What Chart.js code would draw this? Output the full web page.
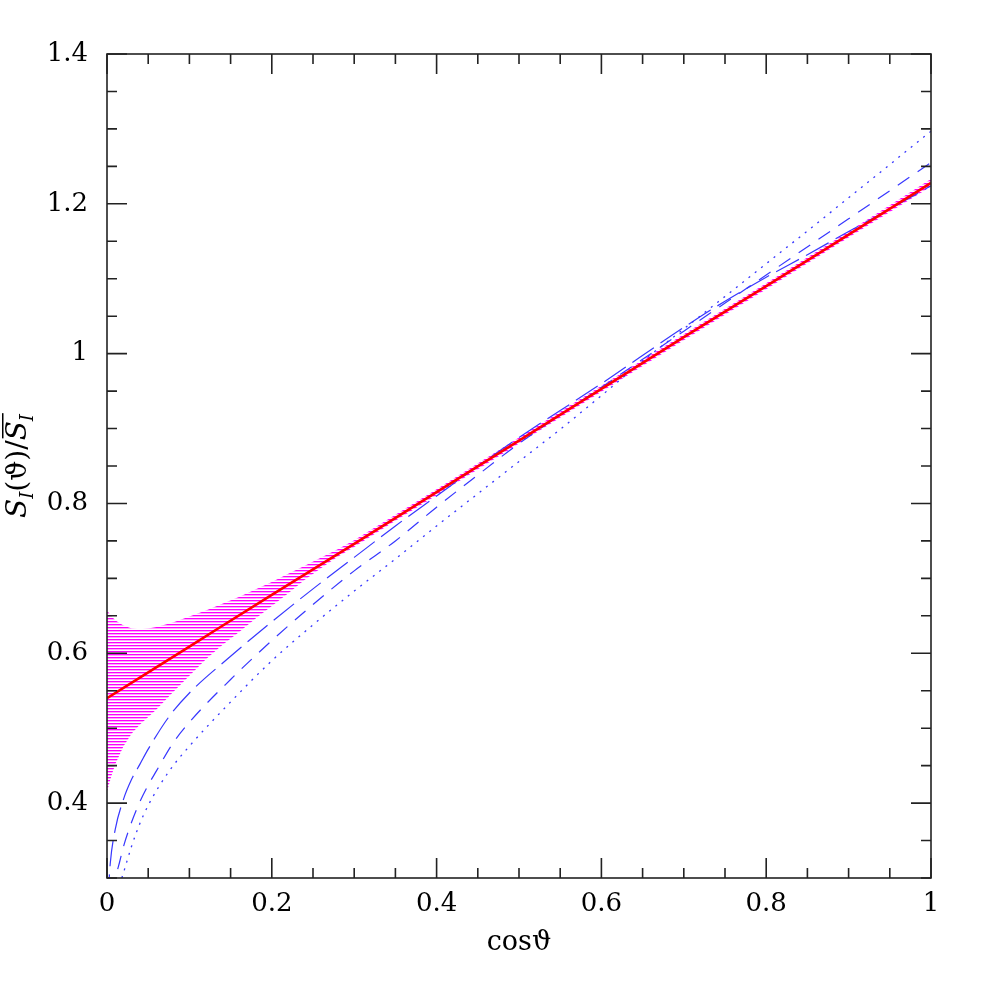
<!DOCTYPE html>
<html>
<head>
<meta charset="utf-8">
<script src="https://cdn.jsdelivr.net/npm/chart.js@4.4.1/dist/chart.umd.min.js"></script>
<style>
  html, body { margin: 0; padding: 0; background: #fff; }
  #wrap { width: 983px; height: 983px; }
</style>
</head>
<body>
<div id="wrap"><canvas id="myChart" width="983" height="983"></canvas></div>
<script>
// tick values and labels
const xTickValues = [0, 0.2, 0.4, 0.6, 0.8, 1];
const xTickLabels = ['0', '0.2', '0.4', '0.6', '0.8', '1'];
const yTickValues = [0.4, 0.6, 0.8, 1, 1.2, 1.4];
const yTickLabels = ['0.4', '0.6', '0.8', '1', '1.2', '1.4'];

// hatched band (magenta) around the red curve
const bandX =     [0, 0.005, 0.01, 0.02, 0.03, 0.04, 0.05, 0.06, 0.08, 0.1, 0.12, 0.14, 0.16, 0.18, 0.2, 0.22, 0.24, 0.26, 0.28, 0.3, 0.35, 0.4, 0.5, 0.6, 0.7, 0.8, 0.9, 1.0];
const bandUpper = [0.657, 0.650, 0.644, 0.637, 0.633, 0.632, 0.633, 0.635, 0.641, 0.649, 0.657, 0.666, 0.675, 0.685, 0.695, 0.706, 0.717, 0.728, 0.739, 0.751, 0.785, 0.819, 0.888, 0.957, 1.026, 1.094, 1.163, 1.233];
const bandLower = [0.415, 0.435, 0.452, 0.476, 0.493, 0.505, 0.515, 0.525, 0.548, 0.570, 0.592, 0.611, 0.628, 0.646, 0.663, 0.680, 0.698, 0.714, 0.729, 0.742, 0.777, 0.811, 0.880, 0.949, 1.018, 1.086, 1.155, 1.223];

// red solid curve
const redX = [0, 0.1, 0.2, 0.3, 0.4, 0.5, 0.6, 0.7, 0.8, 0.9, 1.0];
const redY = [0.540, 0.609, 0.678, 0.746, 0.815, 0.884, 0.953, 1.022, 1.090, 1.159, 1.228];

// blue long dash
const longDashX = [0.001, 0.004, 0.01, 0.02, 0.03, 0.04, 0.05, 0.075, 0.1, 0.15, 0.2, 0.25, 0.3, 0.35, 0.4, 0.45, 0.5, 0.6, 0.7, 0.75, 0.8, 0.85, 0.9, 0.95, 1.0];
const longDashY = [0.27, 0.32, 0.365, 0.405, 0.432, 0.452, 0.472, 0.515, 0.547, 0.596, 0.642, 0.686, 0.728, 0.770, 0.810, 0.850, 0.888, 0.960, 1.035, 1.070, 1.102, 1.132, 1.163, 1.193, 1.224];

// blue medium dash
const midDashX = [0.008, 0.012, 0.015, 0.02, 0.03, 0.04, 0.05, 0.06, 0.08, 0.1, 0.15, 0.2, 0.25, 0.3, 0.35, 0.4, 0.45, 0.5, 0.6, 0.7, 0.8, 0.9, 1.0];
const midDashY = [0.28, 0.307, 0.32, 0.342, 0.375, 0.402, 0.424, 0.443, 0.480, 0.508, 0.565, 0.617, 0.665, 0.710, 0.750, 0.795, 0.838, 0.880, 0.955, 1.030, 1.105, 1.180, 1.255];

// blue dotted
const dotX = [0.015, 0.02, 0.03, 0.04, 0.05, 0.075, 0.1, 0.15, 0.2, 0.25, 0.3, 0.35, 0.4, 0.45, 0.5, 0.55, 0.6, 0.65, 0.7, 0.8, 0.9, 1.0];
const dotY = [0.29, 0.307, 0.343, 0.373, 0.397, 0.442, 0.476, 0.535, 0.590, 0.638, 0.683, 0.726, 0.770, 0.813, 0.856, 0.899, 0.944, 0.990, 1.033, 1.120, 1.208, 1.297];

const pts = (xs, ys) => xs.map((x, i) => ({ x: x, y: ys[i] }));

const tickFont = { family: '"DejaVu Serif", serif', size: 26 };
const blue = 'rgb(55,55,255)';

function makeHatch()
{
    const c = document.createElement('canvas');
    c.width = 8;
    c.height = 3;
    const g = c.getContext('2d');
    g.fillStyle = 'rgba(255,0,255,1)';
    g.fillRect(0, 0, 8, 1);
    g.fillStyle = 'rgba(255,0,255,0.35)';
    g.fillRect(0, 1, 8, 1);
    return g.createPattern(c, 'repeat');
}

const ctx = document.getElementById('myChart').getContext('2d');

// frame and inward ticks on all four sides
const framePlugin = {
    id: 'frame',
    afterDatasetsDraw(chart)
    {
        const { ctx, chartArea: a, scales: { x, y } } = chart;
        ctx.save();
        ctx.strokeStyle = '#222';
        ctx.lineWidth = 1.6;
        ctx.strokeRect(a.left, a.top, a.right - a.left, a.bottom - a.top);
        ctx.beginPath();
        for (let i = 0; i <= 20; i++)
        {
            const v = i * 0.05;
            const px = x.getPixelForValue(v);
            const len = (i % 4 === 0) ? 20 : 10;
            ctx.moveTo(px, a.bottom); ctx.lineTo(px, a.bottom - len);
            ctx.moveTo(px, a.top); ctx.lineTo(px, a.top + len);
        }
        for (let i = 6; i <= 28; i++)
        {
            const v = i * 0.05;
            const py = y.getPixelForValue(v);
            const len = (i % 4 === 0) ? 20 : 10;
            ctx.moveTo(a.left, py); ctx.lineTo(a.left + len, py);
            ctx.moveTo(a.right, py); ctx.lineTo(a.right - len, py);
        }
        ctx.stroke();
        ctx.restore();
    },
    afterDraw(chart)
    {
        // y axis title: S_I(theta)/overline(S)_I, rotated
        const { ctx } = chart;
        const big = 'italic 28px "DejaVu Serif", serif';
        const up = '28px "DejaVu Serif", serif';
        const sub = 'italic 18px "DejaVu Serif", serif';
        const parts = [
            { t: 'S', f: big, dy: 0 },
            { t: 'I', f: sub, dy: 7 },
            { t: '(ϑ)/', f: up, dy: 0 },
            { t: 'S', f: big, dy: 0, bar: true },
            { t: 'I', f: sub, dy: 7 }
        ];
        ctx.save();
        let total = 0;
        parts.forEach(p => { ctx.font = p.f; p.w = ctx.measureText(p.t).width; total += p.w; });
        ctx.translate(26, 466);
        ctx.rotate(-Math.PI / 2);
        ctx.fillStyle = '#000';
        ctx.textBaseline = 'alphabetic';
        let cx = -total / 2;
        parts.forEach(p =>
        {
            ctx.font = p.f;
            ctx.fillText(p.t, cx, p.dy);
            if (p.bar)
            {
                ctx.fillRect(cx + 2, -24, p.w + 6, 1.5);
            }
            cx += p.w;
        });
        ctx.restore();
    }
};

new Chart(ctx, {
    type: 'line',
    data: {
        datasets: [
            {
                data: pts(bandX, bandLower),
                borderWidth: 0,
                pointRadius: 0,
                fill: false,
                order: 10
            },
            {
                data: pts(bandX, bandUpper),
                borderWidth: 0,
                pointRadius: 0,
                backgroundColor: makeHatch(),
                fill: '-1',
                order: 10
            },
            {
                data: pts(longDashX, longDashY),
                borderColor: blue,
                borderWidth: 1.2,
                borderDash: [26, 8],
                pointRadius: 0,
                cubicInterpolationMode: 'monotone',
                order: 5
            },
            {
                data: pts(midDashX, midDashY),
                borderColor: blue,
                borderWidth: 1.2,
                borderDash: [14, 10],
                pointRadius: 0,
                cubicInterpolationMode: 'monotone',
                order: 5
            },
            {
                data: pts(dotX, dotY),
                borderColor: blue,
                borderWidth: 1.3,
                borderDash: [2, 6],
                pointRadius: 0,
                cubicInterpolationMode: 'monotone',
                order: 5
            },
            {
                data: pts(redX, redY),
                borderColor: '#ff0000',
                borderWidth: 2.6,
                pointRadius: 0,
                cubicInterpolationMode: 'monotone',
                order: 0
            }
        ]
    },
    options: {
        responsive: false,
        animation: false,
        devicePixelRatio: 1,
        layout: {
            padding: { top: 54, right: 52, left: 0, bottom: 0 }
        },
        plugins: {
            legend: { display: false },
            tooltip: { enabled: false }
        },
        scales: {
            x: {
                type: 'linear',
                min: 0,
                max: 1,
                afterBuildTicks: s => { s.ticks = xTickValues.map(v => ({ value: v })); },
                afterFit: s => { s.height = 105; },
                grid: { display: false, drawTicks: false },
                border: { display: false },
                ticks: {
                    autoSkip: false,
                    maxRotation: 0,
                    padding: 11,
                    color: '#000',
                    font: tickFont,
                    callback: (v, i) => xTickLabels[i]
                },
                title: {
                    display: true,
                    text: 'cosϑ',
                    color: '#000',
                    font: { family: '"DejaVu Serif", serif', size: 27 },
                    padding: { top: 0, bottom: 24 }
                }
            },
            y: {
                type: 'linear',
                min: 0.3,
                max: 1.4,
                afterBuildTicks: s => { s.ticks = yTickValues.map(v => ({ value: v })); },
                afterFit: s => { s.width = 107; },
                grid: { display: false, drawTicks: false },
                border: { display: false },
                ticks: {
                    autoSkip: false,
                    padding: 19,
                    color: '#000',
                    font: tickFont,
                    callback: (v, i) => yTickLabels[i]
                }
            }
        }
    },
    plugins: [framePlugin]
});
</script>
</body>
</html>
